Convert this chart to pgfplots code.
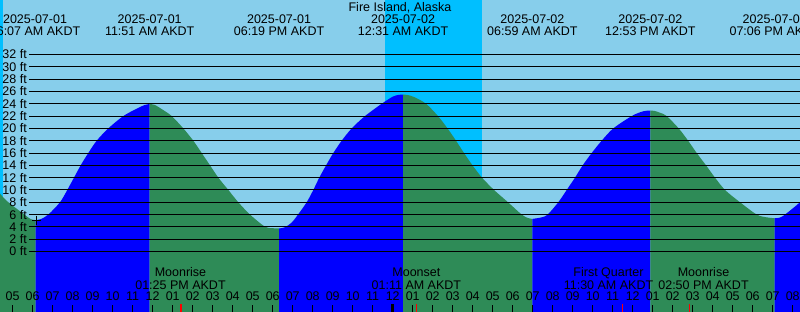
\documentclass[border=0pt]{standalone}
\usepackage{pgfplots}
\pgfplotsset{compat=1.18}
\usepackage{fontspec}
\setmainfont{Liberation Sans}
\definecolor{sky}{HTML}{87CEEB}
\definecolor{night}{HTML}{00BFFF}
\definecolor{flood}{HTML}{0000FF}
\definecolor{ebb}{HTML}{2E8B57}
\newcommand{\lbl}{\fontsize{12.5}{14}\selectfont}
\begin{document}
\begin{tikzpicture}[x=1pt,y=1pt]
\path[use as bounding box] (0,0) rectangle (800,312);
\clip (0,0) rectangle (800,312);
\begin{axis}[at={(0,0)}, anchor=south west, width=800pt, height=312pt, scale only axis,
  xmin=4.365, xmax=44.365, ymin=-9.828, ymax=40.855,
  axis y line=none, axis x line*=bottom, x axis line style={draw=none},
  axis on top,
  xtick={5,...,44},
  xticklabels={05,06,07,08,09,10,11,12,01,02,03,04,05,06,07,08,09,10,11,12,01,02,03,04,05,06,07,08,09,10,11,12,01,02,03,04,05,06,07,08},
  xtick align=inside, major tick length=7pt,
  xtick style={black, line width=1pt},
  xticklabel style={anchor=base, yshift=11.7pt, inner sep=0pt, font=\lbl},
]
% background: day / night
\fill[sky] (axis cs:4.0,-9.828) rectangle (axis cs:45,40.855);
\fill[night] (axis cs:23.615,-9.828) rectangle (axis cs:28.465,40.855);
\fill[night] (axis cs:4.0,-9.828) rectangle (axis cs:4.50,40.855);
% tide: ebb (falling, green) and flood (rising, blue)
\addplot[draw=none, fill=ebb, smooth, tension=0.5] coordinates {
 (4.0,11.2) (4.365,9.4) (4.78,8.0) (5.3,6.7) (5.765,5.55) (5.95,5.2) (6.14,5.1)}
 -- (axis cs:6.14,-9.828) -- (axis cs:4.0,-9.828) -- cycle;
\addplot[draw=none, fill=flood, smooth, tension=0.5] coordinates {
 (6.14,5.1) (6.4,5.25) (6.78,6.0) (7.365,8.0) (7.73,10) (8.065,12) (8.4,14) (8.78,16) (9.2,18) (9.78,20) (10.53,22) (11.2,23.2) (11.6,23.8) (11.85,23.95)}
 -- (axis cs:11.85,-9.828) -- (axis cs:6.14,-9.828) -- cycle;
\addplot[draw=none, fill=ebb, smooth, tension=0.5] coordinates {
 (11.85,23.95) (12.1,23.82) (12.515,23.0) (12.95,22) (13.53,20) (14.03,18) (14.45,16) (14.865,14) (15.28,12) (15.78,10) (16.28,8) (16.865,6) (17.6,4.05) (17.95,3.8) (18.317,3.75)}
 -- (axis cs:18.317,-9.828) -- (axis cs:11.85,-9.828) -- cycle;
\addplot[draw=none, fill=flood, smooth, tension=0.5] coordinates {
 (18.317,3.75) (18.6,3.92) (18.95,4.7) (19.265,6) (19.7,8) (20.03,10) (20.33,12) (20.67,14) (21.03,16) (21.45,18) (21.95,20) (22.615,22) (23.45,24) (24.0,25.15) (24.3,25.44) (24.517,25.5)}
 -- (axis cs:24.517,-9.828) -- (axis cs:18.317,-9.828) -- cycle;
\addplot[draw=none, fill=ebb, smooth, tension=0.5] coordinates {
 (24.517,25.5) (24.75,25.42) (25.1,25.05) (25.665,24) (26.265,22) (26.74,20) (27.165,18) (27.565,16) (27.99,14) (28.465,12) (29.065,10) (29.765,8) (30.45,6) (30.75,5.45) (30.983,5.3)}
 -- (axis cs:30.983,-9.828) -- (axis cs:24.517,-9.828) -- cycle;
\addplot[draw=none, fill=flood, smooth, tension=0.5] coordinates {
 (30.983,5.3) (31.25,5.42) (31.5,5.6) (31.75,6) (32.28,8) (32.7,10) (33.115,12) (33.5,14) (33.95,16) (34.45,18) (35.03,20) (35.95,22) (36.4,22.65) (36.65,22.85) (36.883,22.9)}
 -- (axis cs:36.883,-9.828) -- (axis cs:30.983,-9.828) -- cycle;
\addplot[draw=none, fill=ebb, smooth, tension=0.5] coordinates {
 (36.883,22.9) (37.1,22.83) (37.4,22.5) (37.7,22) (38.3,20) (38.77,18) (39.2,16) (39.665,14) (40.115,12) (40.615,10) (41.365,8) (42.2,6.0) (42.7,5.55) (43.1,5.4)}
 -- (axis cs:43.1,-9.828) -- (axis cs:36.883,-9.828) -- cycle;
\addplot[draw=none, fill=flood, smooth, tension=0.5] coordinates {
 (43.1,5.4) (43.35,5.5) (43.615,6) (44.365,8) (44.7,9.3)}
 -- (axis cs:44.7,-9.828) -- (axis cs:43.1,-9.828) -- cycle;
% horizontal level lines
\pgfplotsinvokeforeach{0,2,...,32}{
  \draw[black, line width=1pt] (axis cs:5.83,#1) -- (axis cs:44.5,#1);
}
% midnight and moon-event ticks
\draw[black, line width=3pt] (axis cs:24,-9.9) -- (axis cs:24,-8.53);
\draw[red, line width=1.2pt] (axis cs:13.4167,-9.9) -- (axis cs:13.4167,-8.53);
\draw[red, line width=1.2pt] (axis cs:25.1833,-9.9) -- (axis cs:25.1833,-8.53);
\draw[red, line width=1.2pt] (axis cs:35.5,-9.9) -- (axis cs:35.5,-8.53);
\draw[red, line width=1.2pt] (axis cs:38.8333,-9.9) -- (axis cs:38.8333,-8.53);
% current-time mark
\addplot[only marks, mark=+, mark size=4.5pt, black, line width=1pt] coordinates {(6.2,5.1)};
\end{axis}
% level labels
\foreach \v in {0,2,...,32}{
  \node[anchor=east, inner sep=0pt, font=\lbl] at (27, {60.5+6.156*\v}) {\v\ ft};
}
% title
\node[anchor=base, inner sep=0pt, font=\lbl] at (400,300) {Fire Island, Alaska};
% tide event labels
\foreach \x/\d/\t in {35.03/2025-07-01/06:07 AM AKDT, 149.7/2025-07-01/11:51 AM AKDT, 279.03/2025-07-01/06:19 PM AKDT, 403.03/2025-07-02/12:31 AM AKDT, 532.37/2025-07-02/06:59 AM AKDT, 650.37/2025-07-02/12:53 PM AKDT, 774.7/2025-07-02/07:06 PM AKDT}{
  \node[anchor=base, inner sep=0pt, font=\lbl] at (\x,288) {\d};
  \node[anchor=base, inner sep=0pt, font=\lbl] at (\x,276) {\t};
}
% moon event labels
\foreach \x/\e/\t in {180.5/Moonrise/01:25 PM AKDT, 416.4/Moonset/01:11 AM AKDT, 608.5/First Quarter/11:30 AM AKDT, 703.5/Moonrise/02:50 PM AKDT}{
  \node[anchor=base, inner sep=0pt, font=\lbl] at (\x,35) {\e};
  \node[anchor=base, inner sep=0pt, font=\lbl] at (\x,22.7) {\t};
}
\end{tikzpicture}
\end{document}
